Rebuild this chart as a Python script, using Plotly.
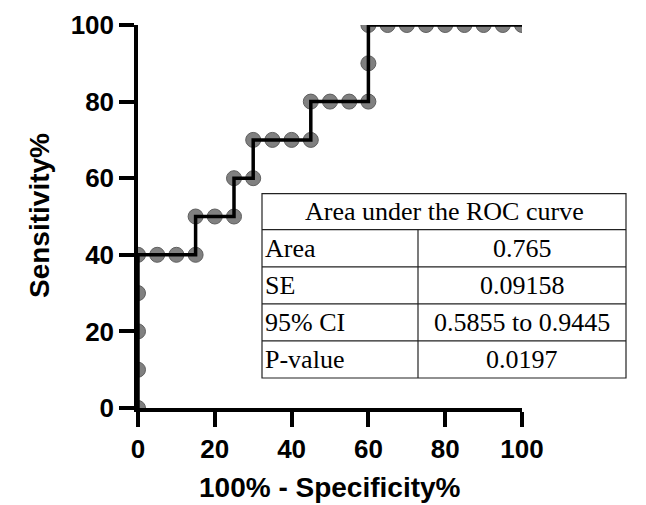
import plotly.graph_objects as go

# ROC curve points (100% - Specificity%, Sensitivity%)
fpr = [0, 0, 0, 0, 0, 5, 10, 15, 15, 20, 25, 25, 30, 30, 35, 40, 45, 45, 50, 55,
       60, 60, 60, 65, 70, 75, 80, 85, 90, 95, 100]
tpr = [0, 10, 20, 30, 40, 40, 40, 40, 50, 50, 50, 60, 60, 70, 70, 70, 70, 80, 80, 80,
       80, 90, 100, 100, 100, 100, 100, 100, 100, 100, 100]

tick_vals = [0, 20, 40, 60, 80, 100]
x_title = "100% - Specificity%"
y_title = "Sensitivity%"

table_title = "Area under the ROC curve"
row_labels = ["Area", "SE", "95% CI", "P-value"]
row_values = ["0.765", "0.09158", "0.5855 to 0.9445", "0.0197"]

W, H = 646, 505
L, R, T, B = 130, 132, 17, 105

fig = go.Figure()
fig.add_trace(go.Scatter(
    x=fpr, y=tpr, mode="markers",
    marker=dict(size=15, color="#808080", line=dict(color="#5f5f5f", width=1)),
    cliponaxis=True, showlegend=False, hoverinfo="skip"))
fig.add_trace(go.Scatter(
    x=fpr, y=tpr, mode="lines",
    line=dict(color="black", width=3.5), showlegend=False))

axis_font = dict(family="Liberation Sans, Arial", size=26, color="black", weight="bold")
title_font = dict(family="Liberation Sans, Arial", size=28, color="black", weight="bold")

fig.update_xaxes(range=[0, 100], tickvals=tick_vals, showgrid=False, zeroline=False,
                 showline=True, linecolor="black", linewidth=3.5,
                 ticks="outside", ticklen=15, tickwidth=3.5, tickcolor="black",
                 tickfont=axis_font, automargin=False)
fig.update_yaxes(range=[0, 100], tickvals=tick_vals, showgrid=False, zeroline=False,
                 showline=True, linecolor="black", linewidth=3.5,
                 ticks="outside", ticklen=15, tickwidth=3.5, tickcolor="black",
                 tickfont=axis_font, automargin=False)

# pixel -> paper coords
pw, ph = W - L - R, H - T - B
def px(x):
    return (x - L) / pw
def py(y):
    return 1 - (y - T) / ph

ann = [
    dict(xref="paper", yref="paper", x=px(322), y=py(479), text=x_title, showarrow=False,
         font=title_font, xanchor="center", yanchor="middle"),
    dict(xref="paper", yref="paper", x=px(32), y=py(208), text=y_title, showarrow=False,
         font=title_font, xanchor="center", yanchor="middle", textangle=-90),
]

# table
tl, tr, tdiv = 254, 618, 410
rows_y = [185.7, 221.7, 258.8, 295.8, 332.9, 370]
shapes = [dict(type="rect", xref="paper", yref="paper",
               x0=px(tl), x1=px(tr), y0=py(rows_y[-1]), y1=py(rows_y[0]),
               line=dict(color="#222", width=1.2), fillcolor="white", layer="above")]
for yy in rows_y[1:-1]:
    shapes.append(dict(type="line", xref="paper", yref="paper",
                       x0=px(tl), x1=px(tr), y0=py(yy), y1=py(yy),
                       line=dict(color="#222", width=1.2), layer="above"))
shapes.append(dict(type="line", xref="paper", yref="paper",
                   x0=px(tdiv), x1=px(tdiv), y0=py(rows_y[-1]), y1=py(rows_y[1]),
                   line=dict(color="#222", width=1.2), layer="above"))

serif = dict(family="Liberation Serif, Times New Roman", size=26, color="black")
ann.append(dict(xref="paper", yref="paper", x=px((tl + tr) / 2), y=py((rows_y[0] + rows_y[1]) / 2),
                text=table_title, showarrow=False, font=serif, xanchor="center", yanchor="middle"))
for i, (lab, val) in enumerate(zip(row_labels, row_values)):
    yc = py((rows_y[i + 1] + rows_y[i + 2]) / 2)
    ann.append(dict(xref="paper", yref="paper", x=px(tl + 1), y=yc, text=lab, showarrow=False,
                    font=serif, xanchor="left", yanchor="middle"))
    ann.append(dict(xref="paper", yref="paper", x=px((tdiv + tr) / 2), y=yc, text=val,
                    showarrow=False, font=serif, xanchor="center", yanchor="middle"))

fig.update_layout(width=W, height=H, margin=dict(l=L, r=R, t=T, b=B),
                  paper_bgcolor="white", plot_bgcolor="white",
                  shapes=shapes, annotations=ann)

fig.write_html("out.html")
